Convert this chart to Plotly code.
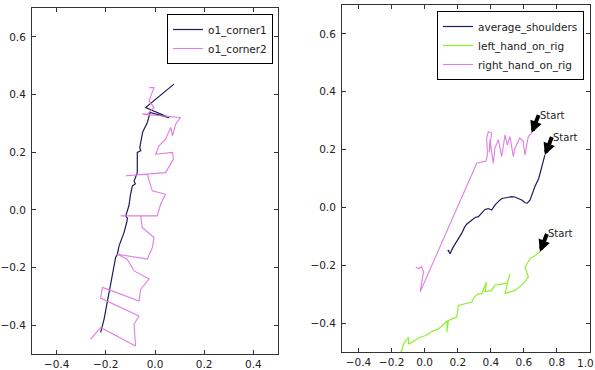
import plotly.graph_objects as go

# ---- Left panel data ----
corner1_x = [0.077, -0.038, 0.057, -0.020, -0.031, -0.050, -0.058, -0.062, -0.058, -0.072, -0.072,
             -0.085, -0.080, -0.092, -0.100, -0.106, -0.119, -0.112, -0.115, -0.120, -0.126, -0.146,
             -0.153, -0.160, -0.168, -0.180, -0.194, -0.200, -0.207, -0.221]
corner1_y = [0.436, 0.355, 0.320, 0.338, 0.303, 0.270, 0.234, 0.215, 0.205, 0.199, 0.129,
             0.100, 0.090, 0.083, 0.050, 0.014, -0.021, -0.030, -0.044, -0.060, -0.079, -0.125,
             -0.154, -0.165, -0.200, -0.252, -0.321, -0.350, -0.379, -0.425]

corner2_x = [-0.024, -0.004, -0.024, -0.004, -0.031, -0.052, 0.104, 0.084, 0.071, 0.064, 0.043,
             0.016, 0.003, 0.071, 0.075, 0.043, -0.119, -0.031, -0.024, -0.011, 0.043, 0.023,
             0.009, -0.140, -0.058, -0.052, -0.004, -0.011, -0.031, -0.153, -0.113, -0.085,
             -0.024, -0.058, -0.065, -0.194, -0.214, -0.221, -0.065, -0.085, -0.079, -0.221, -0.262]
corner2_y = [0.424, 0.424, 0.378, 0.355, 0.332, 0.332, 0.320, 0.297, 0.257, 0.286, 0.245,
             0.222, 0.193, 0.199, 0.176, 0.129, 0.118, 0.124, 0.101, 0.066, 0.054, 0.020,
             -0.021, -0.021, -0.021, -0.061, -0.096, -0.131, -0.171, -0.154, -0.171, -0.212,
             -0.240, -0.275, -0.316, -0.275, -0.269, -0.306, -0.368, -0.397, -0.472, -0.408, -0.449]

# ---- Right panel data ----
shoulders_x = [0.727, 0.707, 0.690, 0.667, 0.650, 0.637, 0.620, 0.607, 0.590, 0.566, 0.546, 0.526,
               0.500, 0.466, 0.445, 0.425, 0.405, 0.385, 0.365, 0.345, 0.325, 0.305, 0.284, 0.270,
               0.254, 0.240, 0.224, 0.204, 0.184, 0.170, 0.154, 0.140, 0.150]
shoulders_y = [0.181, 0.141, 0.100, 0.072, 0.045, 0.025, 0.015, 0.016, 0.025, 0.031, 0.036, 0.037,
               0.035, 0.031, 0.020, 0.008, -0.009, -0.004, -0.007, -0.020, -0.032, -0.035, -0.044,
               -0.050, -0.058, -0.070, -0.090, -0.108, -0.125, -0.140, -0.160, -0.148, -0.150]

left_hand_x = [0.697, 0.660, 0.640, 0.607, 0.627, 0.600, 0.546, 0.486, 0.506, 0.516, 0.500, 0.465,
               0.425, 0.405, 0.365, 0.375, 0.345, 0.320, 0.300, 0.285, 0.260, 0.204, 0.194, 0.170,
               0.144, 0.134, 0.138, 0.084, 0.040, 0.006, -0.030, -0.077, -0.098, -0.098, -0.128,
               -0.138, -0.158]
left_hand_y = [-0.154, -0.170, -0.175, -0.206, -0.240, -0.262, -0.287, -0.298, -0.250, -0.229, -0.262,
               -0.265, -0.269, -0.287, -0.292, -0.258, -0.298, -0.300, -0.310, -0.327, -0.330, -0.339,
               -0.379, -0.385, -0.391, -0.431, -0.392, -0.420, -0.430, -0.443, -0.450, -0.466, -0.472,
               -0.449, -0.472, -0.495, -0.510]

right_hand_x = [0.647, 0.627, 0.606, 0.596, 0.575, 0.546, 0.536, 0.516, 0.500, 0.486, 0.466, 0.446,
                0.425, 0.415, 0.395, 0.390, 0.405, 0.385, 0.375, 0.380, 0.370, 0.315, -0.027,
                -0.007, -0.020, -0.035, -0.054]
right_hand_y = [0.257, 0.245, 0.182, 0.228, 0.240, 0.205, 0.176, 0.245, 0.215, 0.251, 0.176, 0.234,
                0.205, 0.153, 0.234, 0.190, 0.257, 0.262, 0.240, 0.182, 0.160, 0.153, -0.292,
                -0.223, -0.205, -0.212, -0.206]

start_labels = ["Start", "Start", "Start"]
right_x_tickvals = [-0.4, -0.2, 0.0, 0.2, 0.4, 0.6, 0.8, 1.0]
right_x_ticktext = ["−0.4", "−0.2", "0.0", "0.2", "0.4", "0.6", "0.8", ""]
right_x_edge_label = "1.0"

navy = "#1c1c5c"
pink = "#e07de0"
green = "#8cf02a"
font_family = "DejaVu Sans"

fig = go.Figure()
fig.add_trace(go.Scatter(x=corner1_x, y=corner1_y, mode="lines", name="o1_corner1",
                         line=dict(color=navy, width=1.2), xaxis="x", yaxis="y", legend="legend"))
fig.add_trace(go.Scatter(x=corner2_x, y=corner2_y, mode="lines", name="o1_corner2",
                         line=dict(color=pink, width=1.1), xaxis="x", yaxis="y", legend="legend"))
fig.add_trace(go.Scatter(x=shoulders_x, y=shoulders_y, mode="lines", name="average_shoulders",
                         line=dict(color=navy, width=1.2), xaxis="x2", yaxis="y2", legend="legend2"))
fig.add_trace(go.Scatter(x=left_hand_x, y=left_hand_y, mode="lines", name="left_hand_on_rig",
                         line=dict(color=green, width=1.2), xaxis="x2", yaxis="y2", legend="legend2"))
fig.add_trace(go.Scatter(x=right_hand_x, y=right_hand_y, mode="lines", name="right_hand_on_rig",
                         line=dict(color=pink, width=1.1), xaxis="x2", yaxis="y2", legend="legend2"))

# Start annotations at the first point of each right-panel series
for (sx, sy), lbl in zip([(shoulders_x[0], shoulders_y[0]), (left_hand_x[0], left_hand_y[0]),
                          (right_hand_x[0], right_hand_y[0])], start_labels):
    fig.add_annotation(x=sx, y=sy, xref="x2", yref="y2", text=lbl, showarrow=True,
                       ax=7, ay=-18, xanchor="left", arrowhead=2, arrowsize=0.6, arrowwidth=4,
                       arrowcolor="black", standoff=0, startstandoff=0, borderpad=0,
                       font=dict(size=10, color="#222", family=font_family))

# "1.0" tick label at the right edge (kept inside the page)
fig.add_annotation(x=1.0, y=(370 - 363) / 370, xref="paper", yref="paper",
                   text=right_x_edge_label, showarrow=False, xanchor="right", yanchor="middle",
                   borderpad=0, font=dict(size=10.5, color="#222", family=font_family))

axis_common = dict(showline=True, mirror="ticks", linecolor="#333", linewidth=1,
                   ticks="inside", ticklen=4, tickcolor="#333", showgrid=False, zeroline=False,
                   tickfont=dict(size=10.5, color="#222", family=font_family))

fig.update_layout(
    width=595, height=370, margin=dict(l=0, r=0, t=0, b=0),
    paper_bgcolor="white", plot_bgcolor="white",
    font=dict(family=font_family),
    xaxis=dict(domain=[32 / 595, 278 / 595], range=[-0.5, 0.5], dtick=0.2, tick0=0, anchor="y",
               tickformat=".1f", **axis_common),
    yaxis=dict(domain=[16 / 370, 362 / 370], range=[-0.5, 0.7], dtick=0.2, tick0=0, anchor="x",
               tickformat=".1f", ticklabelstandoff=3, **axis_common),
    xaxis2=dict(domain=[342 / 595, 590 / 595], range=[-0.5, 1.0001], anchor="y2",
                tickmode="array", tickvals=right_x_tickvals, ticktext=right_x_ticktext,
                **axis_common),
    yaxis2=dict(domain=[18 / 370, 365 / 370], range=[-0.5, 0.7], dtick=0.2, tick0=0, anchor="x2",
                tickformat=".1f", ticklabelstandoff=3, **axis_common),
    legend=dict(x=273 / 595, y=1 - 14 / 370, xanchor="right", yanchor="top",
                bordercolor="black", borderwidth=1, bgcolor="white",
                font=dict(size=10.5, color="#222", family=font_family), tracegroupgap=0),
    legend2=dict(x=584 / 595, y=1 - 11 / 370, xanchor="right", yanchor="top",
                 bordercolor="black", borderwidth=1, bgcolor="white",
                 font=dict(size=10.5, color="#222", family=font_family), tracegroupgap=0),
)

fig.write_html("out.html", config={"displayModeBar": False},
               post_script="document.body.style.margin='0';")
